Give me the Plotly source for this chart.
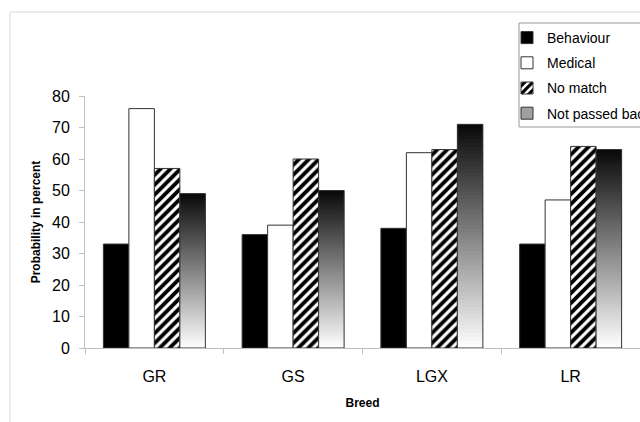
import plotly.graph_objects as go

breeds = ["GR", "GS", "LGX", "LR"]
behaviour = [33, 36, 38, 33]
medical = [76, 39, 62, 47]
no_match = [57, 60, 63, 64]
not_passed_back = [49, 50, 71, 63]
y_ticks = [0, 10, 20, 30, 40, 50, 60, 70, 80]

FONT = "Liberation Sans, Arial, sans-serif"
EDGE = "#333333"

fig = go.Figure()

fig.add_trace(go.Bar(
    x=breeds, y=behaviour, name="Behaviour", offsetgroup="b", legendgroup="b",
    marker=dict(color="black", line=dict(color=EDGE, width=1)),
))
fig.add_trace(go.Bar(
    x=breeds, y=medical, name="Medical", offsetgroup="m", legendgroup="m",
    marker=dict(color="white", line=dict(color=EDGE, width=1)),
))
fig.add_trace(go.Bar(
    x=breeds, y=no_match, name="No match", offsetgroup="n", legendgroup="n",
    marker=dict(color="white", line=dict(color=EDGE, width=1),
                pattern=dict(shape="/", fgcolor="black", bgcolor="white",
                             fgopacity=1, size=7, solidity=0.55)),
))

# gradient fill for "Not passed back": each bar split into overlapping slices
N = 60
for i in range(N):
    t = (i + 0.5) / N
    g = int(round(255 - (255 - 8) * t))
    top = min(i + 2, N)
    fig.add_trace(go.Bar(
        x=breeds,
        y=[v * (top - i) / N for v in not_passed_back],
        base=[v * i / N for v in not_passed_back],
        offsetgroup="p", showlegend=False, hoverinfo="skip",
        marker=dict(color=f"rgb({g},{g},{g})", line=dict(width=0)),
    ))
# outline
fig.add_trace(go.Bar(
    x=breeds, y=not_passed_back, offsetgroup="p", showlegend=False,
    marker=dict(color="rgba(0,0,0,0)", line=dict(color=EDGE, width=1)),
))
# legend entry
fig.add_trace(go.Bar(
    x=breeds, y=[None] * len(breeds), name="Not passed back", offsetgroup="p",
    legendgroup="p",
    marker=dict(color="#a0a0a0", line=dict(color=EDGE, width=1)),
))

fig.update_layout(
    width=640, height=422,
    margin=dict(l=85, r=0, t=96, b=74, autoexpand=False),
    paper_bgcolor="white", plot_bgcolor="white",
    barmode="group", bargap=0.265, bargroupgap=0,
    font=dict(family=FONT, color="black"),
    showlegend=True,
    legend=dict(
        x=(507 - 85) / 555, y=(348 - 22) / 252, xanchor="left", yanchor="top",
        bgcolor="rgba(0,0,0,0)", borderwidth=0,
        font=dict(family=FONT, size=14, color="black"),
        tracegroupgap=4, traceorder="grouped",
    ),
    xaxis=dict(
        showgrid=False, showline=True, linecolor="#bfbfbf", linewidth=1,
        ticks="outside", tickson="boundaries", ticklen=5, tickcolor="#bfbfbf",
        ticklabelstandoff=14,
        tickfont=dict(family=FONT, size=16, color="black"),
        title=dict(text="<b>Breed</b>", font=dict(family=FONT, size=12, color="black"),
                   standoff=14),
        range=[-0.5, 3.5],
    ),
    yaxis=dict(
        range=[0, 80], tickvals=y_ticks, showgrid=False, zeroline=False,
        showline=True, linecolor="#bfbfbf", linewidth=1,
        ticks="outside", ticklen=5, tickcolor="#bfbfbf",
        ticklabelstandoff=6,
        tickfont=dict(family=FONT, size=16, color="black"),
        title=dict(text="<b>Probability in percent</b>",
                   font=dict(family=FONT, size=12, color="black"), standoff=8),
    ),
    shapes=[
        dict(type="rect", xref="paper", yref="paper",
             x0=(10 - 85) / 555, x1=1.2, y0=-0.5, y1=(348 - 12) / 252,
             line=dict(color="#d9d9d9", width=1), fillcolor="rgba(0,0,0,0)",
             layer="below"),
        dict(type="rect", xref="paper", yref="paper",
             x0=(519 - 85) / 555, x1=1.1, y0=(348 - 127) / 252, y1=(348 - 23) / 252,
             line=dict(color="#999999", width=1), fillcolor="white", layer="above"),
    ],
)

fig.write_html("out.html")
